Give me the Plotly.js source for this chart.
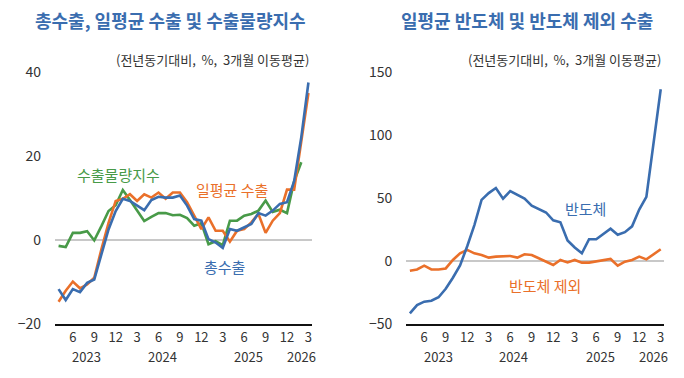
<!DOCTYPE html>
<html>
<head>
<meta charset="utf-8">
<script src="https://cdn.plot.ly/plotly-3.0.1.min.js"></script>
<style>
  html, body { margin: 0; padding: 0; background: #fff; }
  #chart { width: 684px; height: 378px; }
</style>
</head>
<body>
<div id="chart"></div>
<script>
// Months: Apr 2023 .. Mar 2026 (36 points), index positions 0..35
const months = ['2023-04','2023-05','2023-06','2023-07','2023-08','2023-09','2023-10','2023-11','2023-12',
  '2024-01','2024-02','2024-03','2024-04','2024-05','2024-06','2024-07','2024-08','2024-09','2024-10','2024-11','2024-12',
  '2025-01','2025-02','2025-03','2025-04','2025-05','2025-06','2025-07','2025-08','2025-09','2025-10','2025-11','2025-12',
  '2026-01','2026-02','2026-03'];
const tickIdx = [2,5,8,11,14,17,20,23,26,29,32,35];
const tickLabels = ['6','9','12','3','6','9','12','3','6','9','12','3'];
const yearLabels = ['2023','2024','2025','2026'];
const yearPos = [3.95, 14.5, 26.6, 34.05];

// Left chart: 총수출, 일평균 수출, 수출물량지수
const totalExports = [-11.7,-14.3,-11.7,-12.4,-10.2,-9.4,-3.4,2.5,6.9,9.8,9.3,8.3,7.1,9.5,10.3,10.1,10.1,10.6,
  8.2,5.0,4.6,0.2,-0.6,-1.9,2.6,2.2,3.0,3.8,6.4,5.8,7.0,8.6,9.0,14.0,24.5,37.5];
const dailyExports = [-14.7,-12.1,-9.9,-11.5,-10.6,-9.0,-2.2,4.1,9.3,9.8,10.9,9.3,10.9,10.1,11.3,9.8,11.3,11.3,
  9.0,5.8,2.6,5.4,2.2,2.2,-0.4,2.2,2.6,4.2,6.2,1.7,4.6,6.4,12.0,12.0,23.0,35.0];
const volumeIndex = [-1.4,-1.7,1.7,1.7,2.1,-0.1,3.3,6.9,8.3,11.9,9.5,7.1,4.5,5.5,6.4,6.4,5.9,6.0,
  5.2,3.4,4.0,-1.0,-0.3,-1.2,4.6,4.6,5.8,6.2,7.0,9.4,6.7,7.2,6.4,14.0,18.5];

// Right chart: 반도체, 반도체 제외 (일평균)
const semi = [-41.6,-35.0,-32.3,-31.5,-28.8,-22.0,-13.3,-3.5,11.7,28.5,48.5,53.9,57.9,49.5,55.5,52.5,49.5,44.0,
  41.0,38.5,32.3,30.7,16.3,10.7,6.1,17.3,17.3,21.6,25.6,20.8,22.9,27.5,40.8,50.9,95.5,136.3];
const exSemi = [-7.7,-6.7,-3.7,-6.7,-6.7,-5.9,0.8,6.1,8.8,6.1,4.8,2.7,3.5,4.0,4.0,2.7,5.3,4.8,
  2.1,0.0,-3.2,0.8,-1.1,0.8,-1.3,-1.3,-0.5,0.8,1.6,-3.7,-0.5,0.8,3.5,1.3,5.3,9.3];

const idx = months.map((m, i) => i);
const BLUE = '#3a6daf', ORANGE = '#ea702a', GREEN = '#489a48';
const FONT = '"Noto Sans CJK KR", "Noto Sans", sans-serif';

function line(y, color, xa, ya) {
  return { x: idx.slice(0, y.length), y: y, type: 'scatter', mode: 'lines',
    line: { color: color, width: 2.6 }, xaxis: xa, yaxis: ya, hoverinfo: 'skip' };
}

const traces = [
  line(volumeIndex, GREEN, 'x', 'y'),
  line(dailyExports, ORANGE, 'x', 'y'),
  line(totalExports, BLUE, 'x', 'y'),
  line(exSemi, ORANGE, 'x2', 'y2'),
  line(semi, BLUE, 'x2', 'y2')
];

function xax(domain, anchor) {
  return { domain: domain, anchor: anchor, range: [-0.5, 35.5], tickmode: 'array',
    tickvals: tickIdx, ticktext: tickLabels, showgrid: false, zeroline: false,
    showline: true, linecolor: '#111', linewidth: 2, ticks: '', fixedrange: true,
    tickfont: { size: 13, color: '#333', family: FONT } };
}
function yax(range, dtick, anchor) {
  return { range: range, dtick: dtick, anchor: anchor, showgrid: false, zeroline: true,
    zerolinecolor: '#c8c8c8', zerolinewidth: 2, showline: false, ticks: '',
    ticklabelstandoff: 13, tickfont: { size: 14, color: '#333', family: FONT } };
}

const annotations = [
  { text: '총수출, 일평균 수출 및 수출물량지수', xref: 'paper', yref: 'paper', x: 170/684, y: (324-20)/252,
    xanchor: 'center', yanchor: 'middle', showarrow: false, font: { size: 18, color: BLUE, family: FONT, weight: 'bold' } },
  { text: '일평균 반도체 및 반도체 제외 수출', xref: 'paper', yref: 'paper', x: 526.5/684, y: (324-20)/252,
    xanchor: 'center', yanchor: 'middle', showarrow: false, font: { size: 18, color: BLUE, family: FONT, weight: 'bold' } },
  { text: '(전년동기대비,  %,  3개월 이동평균)', xref: 'paper', yref: 'paper', x: 311/684, y: (324-59.5)/252,
    xanchor: 'right', yanchor: 'middle', showarrow: false, font: { size: 13, color: '#333', family: FONT } },
  { text: '(전년동기대비,  %,  3개월 이동평균)', xref: 'paper', yref: 'paper', x: 663/684, y: (324-59.5)/252,
    xanchor: 'right', yanchor: 'middle', showarrow: false, font: { size: 13, color: '#333', family: FONT } },
  { text: '수출물량지수', xref: 'x', yref: 'y', x: 8.46, y: 15.6, showarrow: false,
    font: { size: 15, color: GREEN, family: FONT } },
  { text: '일평균 수출', xref: 'x', yref: 'y', x: 24.3, y: 12.0, showarrow: false,
    font: { size: 15, color: ORANGE, family: FONT } },
  { text: '총수출', xref: 'x', yref: 'y', x: 23.3, y: -6.3, showarrow: false,
    font: { size: 15, color: BLUE, family: FONT } },
  { text: '반도체', xref: 'x2', yref: 'y2', x: 24.5, y: 41.6, showarrow: false,
    font: { size: 15, color: BLUE, family: FONT } },
  { text: '반도체 제외', xref: 'x2', yref: 'y2', x: 18.9, y: -19.2, showarrow: false,
    font: { size: 15, color: ORANGE, family: FONT } }
];
yearLabels.forEach((t, k) => {
  ['x', 'x2'].forEach(xr => {
    annotations.push({ text: t, xref: xr, yref: 'paper', x: yearPos[k], y: (324-356)/252,
      xanchor: 'center', yanchor: 'middle', showarrow: false, borderpad: 0,
      font: { size: 13, color: '#333', family: FONT } });
  });
});

const layout = {
  width: 684, height: 378,
  margin: { l: 0, r: 0, t: 72, b: 54 },
  paper_bgcolor: '#fff', plot_bgcolor: '#fff',
  showlegend: false,
  font: { family: FONT },
  xaxis: xax([55/684, 312/684], 'y'),
  yaxis: yax([-20, 40], 20, 'x'),
  xaxis2: xax([406.3/684, 664.3/684], 'y2'),
  yaxis2: yax([-50, 150], 50, 'x2'),
  annotations: annotations
};

Plotly.newPlot('chart', traces, layout, { displayModeBar: false, staticPlot: true });
</script>
</body>
</html>
